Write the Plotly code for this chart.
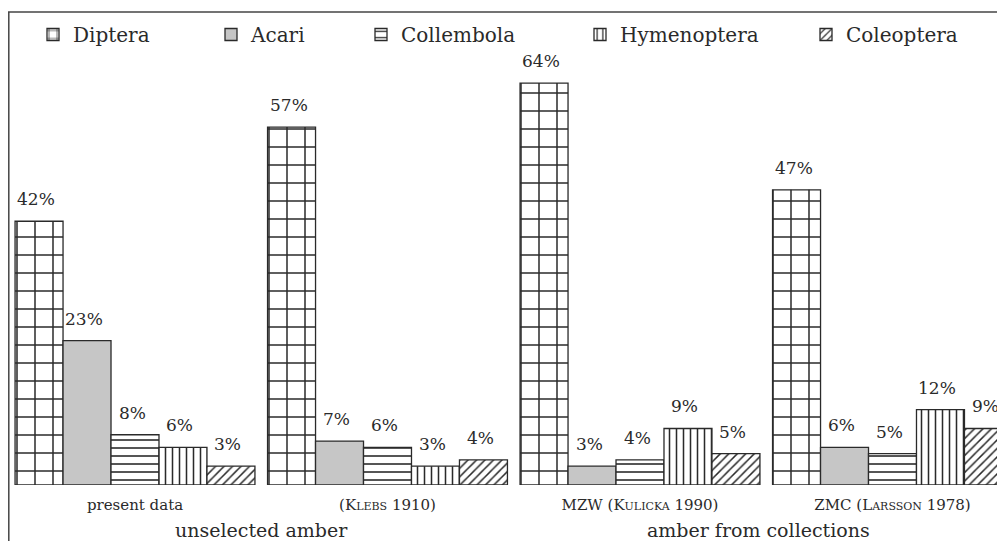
import plotly.graph_objects as go

# ---- data ----
sc = "<span style='font-size:11px'>{}</span>"
groups = [
    "present data",
    "(K" + sc.format("LEBS") + " 1910)",
    "MZW (K" + sc.format("ULICKA") + " 1990)",
    "ZMC (L" + sc.format("ARSSON") + " 1978)",
]
supergroups = ["unselected amber", "amber from collections"]
supergroup_pos = [0.5, 2.47]

series = ["Diptera", "Acari", "Collembola", "Hymenoptera", "Coleoptera"]
diptera = [42, 57, 64, 47]
acari = [23, 7, 3, 6]
collembola = [8, 6, 4, 5]
hymenoptera = [6, 3, 9, 12]
coleoptera = [3, 4, 5, 9]
values = [diptera, acari, collembola, hymenoptera, coleoptera]

# ---- styles ----
FONT = "DejaVu Serif"
INK = "#2a2a2a"
patterns = [
    dict(shape="+", size=18, solidity=0.16, fgcolor=INK, bgcolor="white", fillmode="replace"),
    None,
    dict(shape="-", size=8, solidity=0.2, fgcolor=INK, bgcolor="white", fillmode="replace"),
    dict(shape="|", size=7, solidity=0.22, fgcolor=INK, bgcolor="white", fillmode="replace"),
    dict(shape="/", size=6, solidity=0.25, fgcolor=INK, bgcolor="white", fillmode="replace"),
]
fills = ["white", "#c6c6c6", "white", "white", "white"]
legend_text_px = [75, 253, 403, 622, 848]

OFF = 8  # page body margin
W, H = 1005 - OFF, 541 - OFF
ML, MT, MB, MR = 0, 4, 56, 0
PW = W - ML - MR
PH = H - MT - MB
BASE = H - MB  # baseline in figure pixels
PX_PER_PCT = 6.28

bargap = 0.05
n = len(series)
bw = (1 - bargap) / n

fig = go.Figure()
x = list(range(len(groups)))
for i, (name, vals) in enumerate(zip(series, values)):
    marker = dict(color=fills[i], line=dict(color=INK, width=1.3))
    if patterns[i] is not None:
        marker["pattern"] = patterns[i]
    lg = "legend" if i == 0 else f"legend{i+1}"
    fig.add_trace(go.Bar(x=x, y=vals, name=name, marker=marker, legend=lg,
                         hoverinfo="skip"))
    for g, v in enumerate(vals):
        fig.add_annotation(x=g + (i - (n - 1) / 2) * bw, y=v, text=f"{v}%",
                           showarrow=False, yanchor="bottom", yshift=10, xshift=-3,
                           font=dict(family=FONT, size=17, color=INK))

for lab, pos in zip(supergroups, supergroup_pos):
    fig.add_annotation(x=pos, xref="x", y=(BASE - (530 - OFF)) / PH, yref="paper", text=lab,
                       showarrow=False, yanchor="middle",
                       font=dict(family=FONT, size=19, color=INK))

layout_legends = {}
for i, tx in enumerate(legend_text_px):
    key = "legend" if i == 0 else f"legend{i+1}"
    layout_legends[key] = dict(
        x=(tx - OFF - 42 - ML) / PW, xanchor="left",
        y=(BASE - (34.5 - OFF)) / PH, yanchor="middle",
        orientation="h", bgcolor="rgba(0,0,0,0)",
        font=dict(family=FONT, size=20, color=INK),
        itemclick=False, itemdoubleclick=False,
    )

x0 = (OFF - 135) / 252.5
fig.update_layout(
    width=W, height=H,
    margin=dict(l=ML, r=MR, t=MT, b=MB),
    paper_bgcolor="white", plot_bgcolor="white",
    barmode="group", bargap=bargap, bargroupgap=0,
    showlegend=True,
    xaxis=dict(range=[x0, x0 + PW / 252.5], tickvals=x, ticktext=groups,
               showgrid=False, zeroline=False, showline=False, ticks="",
               ticklabelstandoff=9,
               tickfont=dict(family=FONT, size=15, color=INK), fixedrange=True),
    yaxis=dict(range=[0, PH / PX_PER_PCT], visible=False, fixedrange=True),
    shapes=[
        dict(type="line", xref="paper", yref="paper", x0=0.8 / PW, x1=0.8 / PW, y0=1, y1=-0.2,
             line=dict(color="#444", width=1.5)),
        dict(type="line", xref="paper", yref="paper", x0=0, x1=1.01, y0=1, y1=1,
             line=dict(color="#444", width=1.5)),
    ],
    **layout_legends,
)

fig.write_html("out.html")
